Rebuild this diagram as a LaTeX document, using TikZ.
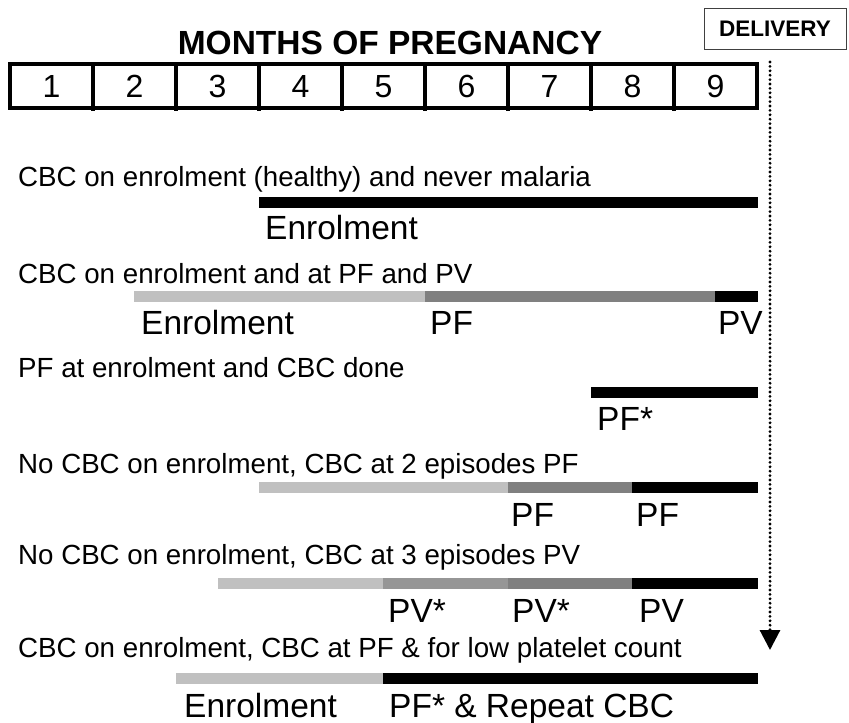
\documentclass[tikz,border=0pt]{standalone}
\usepackage{fontspec}
\setmainfont{Liberation Sans}
\usetikzlibrary{arrows.meta}
\definecolor{lightbar}{HTML}{C0C0C0}
\definecolor{midbar}{HTML}{969696}
\definecolor{darkbar}{HTML}{808080}
\newcommand\barseg[4]{\fill[#1] (#2,#3) rectangle (#4,{#3+10.5});}
\begin{document}
\begin{tikzpicture}[x=1pt,y=-1pt,
  rowtext/.style={anchor=base west, inner sep=0pt, font=\fontsize{27.7pt}{30pt}\selectfont},
  lbl/.style={anchor=base west, inner sep=0pt, font=\fontsize{33.5pt}{36pt}\selectfont},
  num/.style={anchor=base, inner sep=0pt, font=\fontsize{32pt}{34pt}\selectfont},
  boxline/.style={line width=3.3pt}]
\useasboundingbox (0,0) rectangle (849,723);

% title and delivery box
\node[anchor=base, inner sep=0pt, font=\fontsize{33.5pt}{36pt}\selectfont\bfseries] (title) at (390,54) {MONTHS OF PREGNANCY};
\node[draw=black!75, line width=1pt, minimum width=142pt, minimum height=41pt, inner sep=0pt,
  font=\fontsize{22.5pt}{24pt}\selectfont\bfseries] (delivery) at (775,28.5) {DELIVERY};

% months box
\draw[boxline] (10,64) rectangle (757,108);
\foreach \i in {1,...,8} \draw[boxline] ({10+83*\i},64) -- ({10+83*\i},111);
\foreach \i in {1,...,9} \node[num] (m\i) at ({10+83*(\i-0.5)},97) {\i};

% delivery dotted arrow
\coordinate (dtop) at (770,62);
\coordinate (dbot) at (770,650);
\draw[line width=3.1pt, line cap=round, dash pattern=on 0pt off 4.4pt,
  -{Triangle[width=20pt,length=20pt]}] (dtop) -- (dbot);

% row 1
\node[rowtext] (r1) at (18,186) {CBC on enrolment (healthy) and never malaria};
\barseg{black}{259}{197}{758}
\node[lbl] (r1a) at (265,239) {Enrolment};

% row 2
\node[rowtext] (r2) at (18,283) {CBC on enrolment and at PF and PV};
\barseg{lightbar}{134}{291}{425}
\barseg{darkbar}{425}{291}{715}
\barseg{black}{715}{291}{758}
\node[lbl] (r2a) at (141,334) {Enrolment};
\node[lbl] (r2b) at (430,334) {PF};
\node[lbl, anchor=base east] (r2c) at (763,334) {PV};

% row 3
\node[rowtext] (r3) at (18,377) {PF at enrolment and CBC done};
\barseg{black}{591}{387}{758}
\node[lbl] (r3a) at (597,430) {PF*};

% row 4
\node[rowtext] (r4) at (18,473) {No CBC on enrolment, CBC at 2 episodes PF};
\barseg{lightbar}{259}{482}{508}
\barseg{darkbar}{508}{482}{632}
\barseg{black}{632}{482}{758}
\node[lbl] (r4a) at (511,526) {PF};
\node[lbl] (r4b) at (636,526) {PF};

% row 5
\node[rowtext] (r5) at (18,564) {No CBC on enrolment, CBC at 3 episodes PV};
\barseg{lightbar}{218}{578}{383}
\barseg{midbar}{383}{578}{508}
\barseg{darkbar}{508}{578}{632}
\barseg{black}{632}{578}{758}
\node[lbl] (r5a) at (388,622) {PV*};
\node[lbl] (r5b) at (512,622) {PV*};
\node[lbl] (r5c) at (639,622) {PV};

% row 6
\node[rowtext] (r6) at (18,657) {CBC on enrolment, CBC at PF \& for low platelet count};
\barseg{lightbar}{176}{673}{383}
\barseg{black}{383}{673}{758}
\node[lbl] (r6a) at (184,717) {Enrolment};
\node[lbl] (r6b) at (389,717) {PF* \& Repeat CBC};
\end{tikzpicture}
\end{document}
